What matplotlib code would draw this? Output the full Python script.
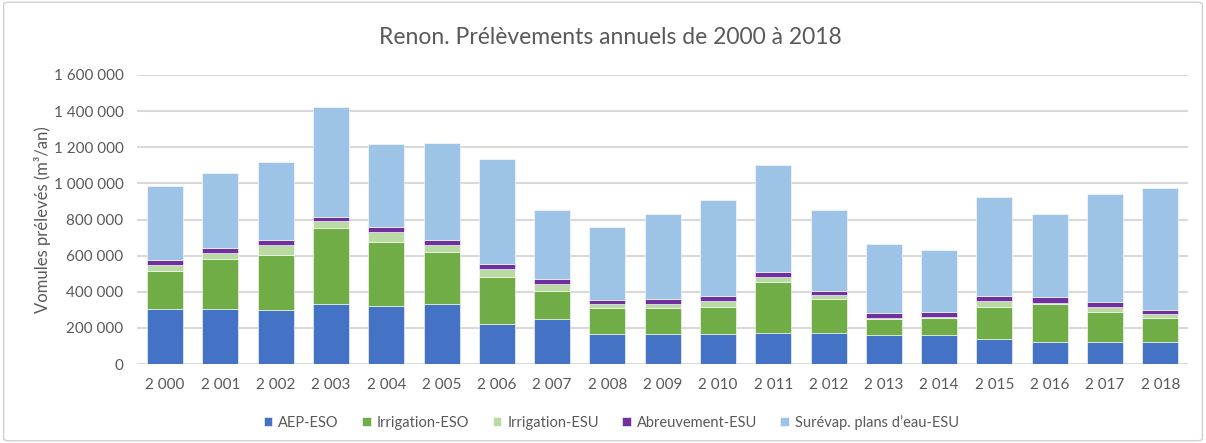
import matplotlib
matplotlib.use("Agg")
import matplotlib.pyplot as plt
from matplotlib.patches import FancyBboxPatch
from matplotlib.ticker import FuncFormatter
import numpy as np

plt.rcParams['font.family'] = ['Lato', 'DejaVu Sans']

years = ["2 000", "2 001", "2 002", "2 003", "2 004", "2 005", "2 006", "2 007", "2 008", "2 009",
         "2 010", "2 011", "2 012", "2 013", "2 014", "2 015", "2 016", "2 017", "2 018"]
aep_eso = [305000, 305000, 302000, 330000, 320000, 335000, 224000, 252000, 169000, 169000,
           169000, 174000, 174000, 163000, 159000, 139000, 120000, 120000, 120000]
irrig_eso = [211000, 275000, 302000, 422000, 354000, 284000, 258000, 152000, 142000, 142000,
             148000, 283000, 187000, 85000, 95000, 178000, 211000, 171000, 137000]
irrig_esu = [33000, 33000, 53000, 37000, 56000, 38000, 42000, 39000, 20000, 20000,
             33000, 25000, 19000, 6000, 7000, 33000, 8000, 26000, 19000]
abreuv_esu = [26000, 31000, 30000, 26000, 31000, 32000, 28000, 26000, 25000, 30000,
              26000, 25000, 26000, 29000, 28000, 26000, 31000, 24000, 26000]
surevap_esu = [409000, 415000, 432000, 607000, 456000, 533000, 581000, 381000, 405000, 469000,
               533000, 593000, 448000, 380000, 344000, 546000, 463000, 602000, 670000]

series = [
    ("AEP-ESO", aep_eso, "#4472C4"),
    ("Irrigation-ESO", irrig_eso, "#70AD47"),
    ("Irrigation-ESU", irrig_esu, "#B9DAA3"),
    ("Abreuvement-ESU", abreuv_esu, "#7030A0"),
    ("Surévap. plans d\u2019eau-ESU", surevap_esu, "#9DC3E6"),
]

fig = plt.figure(figsize=(12.06, 4.43), dpi=100)
ax = fig.add_axes([0.114, 0.178, 0.871, 0.653])

# figure border
border = FancyBboxPatch((0.003, 0.005), 0.994, 0.99, boxstyle="round,pad=0,rounding_size=0.005",
                        transform=fig.transFigure, fill=False, edgecolor="#d0d0d0", linewidth=1.0)
fig.patches.append(border)

x = np.arange(len(years))
bottom = np.zeros(len(years))
for name, vals, color in series:
    v = np.array(vals, dtype=float)
    ax.bar(x, v, bottom=bottom, width=0.65, color=color, label=name,
           edgecolor="white", linewidth=0.4, zorder=3)
    bottom += v

ax.set_xlim(-0.5, len(years) - 0.5)
ax.set_ylim(0, 1600000)
ax.set_yticks(np.arange(0, 1600001, 200000))
ax.yaxis.set_major_formatter(FuncFormatter(lambda v, p: f"{int(v):,}".replace(",", " ")))
ax.set_xticks(x)
ax.set_xticklabels(years)
ax.grid(axis="y", color="#d9d9d9", linewidth=1.5, zorder=0)
for s in ax.spines.values():
    s.set_visible(False)
ax.tick_params(axis="both", length=0, labelsize=11, labelcolor="#595959", pad=10)
ax.tick_params(axis="y", pad=10)

ax.set_ylabel("Vomules prélevés (m³/an)", fontsize=12, color="#595959", labelpad=2)
fig.text(0.506, 0.915, "Renon. Prélèvements annuels de 2000 à 2018", ha="center", va="center",
         fontsize=16.5, color="#595959")

handles, labels = ax.get_legend_handles_labels()
leg = fig.legend(handles, labels, loc="center", bbox_to_anchor=(0.507, 0.047), ncol=5,
                 frameon=False, fontsize=10.5, handlelength=0.6, handleheight=0.6,
                 columnspacing=1.6, handletextpad=0.4, labelcolor="#595959")

fig.savefig("out.png", dpi=100)
